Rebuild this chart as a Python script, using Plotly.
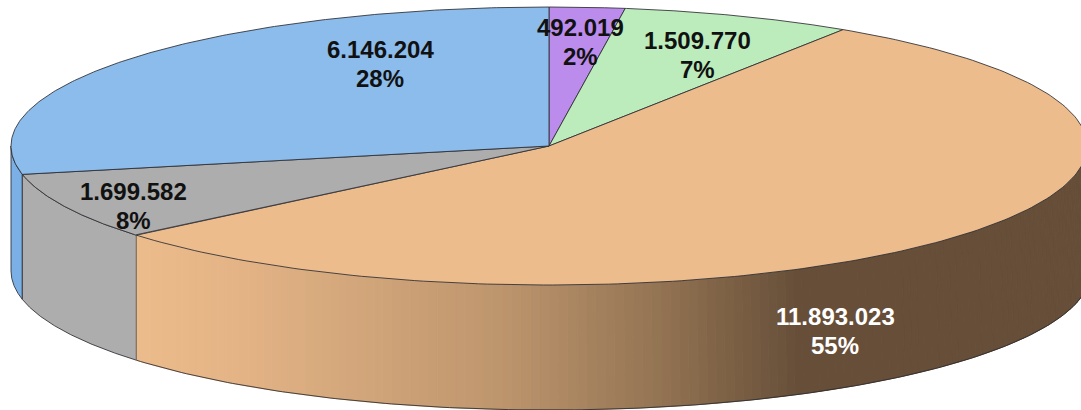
import numpy as np
import plotly.graph_objects as go

# ---- data ----
values = [492019, 1509770, 11893023, 1699582, 6146204]
top_colors = ["#BC8CEC", "#BCECBC", "#ECBC8C", "#ADADAD", "#8BBCEC"]
side_colors = [None, None, None, "#ADADAD", "#7AB0E6"]
label_colors = ["#111111", "#111111", "#FFFFFF", "#111111", "#111111"]

# ---- layout of the pseudo-3D pie (pixels) ----
W, H = 1081, 410
CX, CY, RX, RY, DEPTH = 549, 146, 538, 139, 125
RX_BOTTOM_RIGHT = 542
EDGE = "rgba(45,45,50,0.85)"
label_anchor = [(580, 42), (697, 55), (835, 331), (133, 206), (380, 64)]
line_gap = 29
FONT = "Liberation Sans, Arial, sans-serif"
FONT_SIZE = 24
# horizontal shading of the orange wall: (x pixel, rgb)
wall_x = [135, 240, 500, 650, 800, 1081]
wall_r = [236, 228, 190, 150, 102, 102]
wall_g = [188, 180, 150, 118, 78, 78]
wall_b = [140, 134, 110, 85, 56, 56]


def ell(deg):
    a = np.radians(deg)
    return CX + RX * np.sin(a), CY - RY * np.cos(a)


def ell_bottom(deg):
    a = np.radians(deg)
    s = np.sin(a)
    rx = np.where(s > 0, RX_BOTTOM_RIGHT, RX)
    return CX + rx * s, CY - RY * np.cos(a) + DEPTH


total = sum(values)
bounds = np.concatenate([[0], np.cumsum(values) / total * 360])
fig = go.Figure()


def poly(x, y, fill, line_color=None, width=0.0):
    fig.add_trace(go.Scatter(
        x=list(x), y=list(y), mode="lines", fill="toself", fillcolor=fill,
        line=dict(color=line_color or fill, width=width), hoverinfo="skip", showlegend=False))


def wall(a0, a1, fill):
    t = np.linspace(a0, a1, 120)
    xt, yt = ell(t)
    xb, yb = ell_bottom(t[::-1])
    poly(np.r_[xt, xb, xt[0]], np.r_[yt, yb, yt[0]], fill, EDGE, 1)


# blue and grey walls
wall(bounds[4], 270, side_colors[4])
wall(bounds[3], bounds[4], side_colors[3])

# orange wall: thin strips shaded along x
a0, a1 = 90.0, bounds[3]
edges = np.arange(a0, a1 + 0.01, 1.0)
edges[-1] = a1
for s, e in zip(edges[:-1], edges[1:]):
    t = np.linspace(s, e, 4)
    xt, yt = ell(t)
    xb, yb = ell_bottom(t[::-1])
    xm = float(np.mean(xt))
    c = "rgb(%d,%d,%d)" % (np.interp(xm, wall_x, wall_r), np.interp(xm, wall_x, wall_g), np.interp(xm, wall_x, wall_b))
    poly(np.r_[xt, xb, xt[0]], np.r_[yt, yb, yt[0]], c, c, 1)

# outline of the wall
t = np.linspace(90, a1, 200)
xb, yb = ell_bottom(t)
fig.add_trace(go.Scatter(x=xb, y=yb, mode="lines", line=dict(color=EDGE, width=1), hoverinfo="skip", showlegend=False))
xv, yv = ell(a1)
fig.add_trace(go.Scatter(x=[xv, xv], y=[yv, yv + DEPTH], mode="lines", line=dict(color="rgba(90,90,90,0.8)", width=1), hoverinfo="skip", showlegend=False))

# top faces
for i, col in enumerate(top_colors):
    t = np.linspace(bounds[i], bounds[i + 1], 200)
    x, y = ell(t)
    poly(np.r_[CX, x, CX], np.r_[CY, y, CY], col, EDGE, 1)

# labels
for v, (lx, ly), col in zip(values, label_anchor, label_colors):
    pct = f"{round(v / total * 100)}%"
    val = f"{v:,}".replace(",", ".")
    for txt, yy in ((val, ly - line_gap / 2), (pct, ly + line_gap / 2)):
        fig.add_annotation(x=lx, y=yy, text=f"<b>{txt}</b>", showarrow=False,
                           font=dict(family=FONT, size=FONT_SIZE, color=col),
                           xanchor="center", yanchor="middle")

fig.update_layout(
    width=W, height=H, margin=dict(l=0, r=0, t=0, b=0),
    paper_bgcolor="white", plot_bgcolor="white", showlegend=False,
    xaxis=dict(range=[0, W], visible=False, fixedrange=True),
    yaxis=dict(range=[H, 0], visible=False, fixedrange=True),
)
fig.write_html("out.html", config=dict(displayModeBar=False),
               post_script="document.body.style.margin='0';document.body.style.overflow='hidden';")
